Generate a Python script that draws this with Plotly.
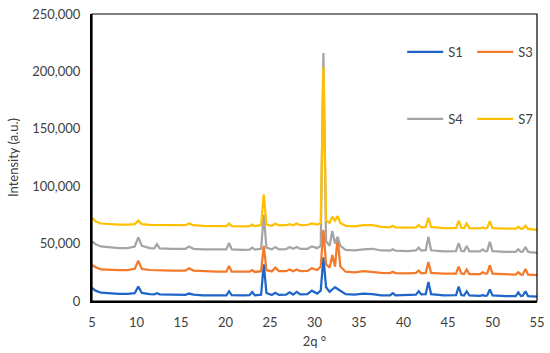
import plotly.graph_objects as go

two_theta = [5, 5.4, 6, 7, 8, 9, 9.8, 10.2, 10.6, 11.5, 12.0, 12.3, 12.6, 14.0, 15.5, 15.9, 16.4, 17.5, 19.0, 20.1,
             20.4, 20.7, 22.0, 22.7, 23.0, 23.3, 24.0, 24.3, 24.6, 25.2, 25.6, 26.0, 26.8, 27.2, 27.6, 28.0, 28.4, 29.2,
             29.7, 30.3, 30.7, 31.0, 31.3, 31.7, 32.0, 32.3, 32.6, 32.9, 33.5, 34.5, 35.5, 36.5, 37.5, 38.5, 38.8, 39.1,
             40.5, 41.4, 41.7, 42.0, 42.5, 42.8, 43.1, 44.5, 45.9, 46.2, 46.5, 46.8, 47.1, 47.4, 48.6, 48.9, 49.2, 49.4,
             49.7, 50.0, 51.5, 52.6, 52.9, 53.2, 53.4, 53.7, 54.0, 55]

s1 = [11500, 9000, 7200, 6500, 6200, 6300, 6800, 12500, 7000, 6000, 5800, 6800, 5800, 5500, 5400, 6500, 5500, 5000,
      4800, 4900, 8500, 5000, 4800, 5000, 7800, 5000, 5500, 32000, 7000, 5200, 7200, 5300, 5500, 7500, 5600, 8000,
      5800, 6000, 9000, 6500, 9000, 38000, 12000, 8000, 10000, 12000, 10500, 9000, 6000, 5500, 6500, 6000, 5000, 5000,
      6800, 5000, 5000, 5500, 8500, 5800, 6000, 16500, 6000, 4800, 5000, 12500, 5200, 4800, 8500, 4800, 4500, 5000,
      4500, 4800, 10000, 4800, 4200, 4300, 7500, 4300, 4500, 8500, 4300, 3800]

s3 = [31500, 29500, 27500, 27000, 27000, 27000, 28000, 35000, 28000, 27000, 26800, 27200, 26700, 26500, 26500, 28500,
      26500, 26000, 25500, 25500, 30500, 25500, 25300, 25500, 27000, 25300, 26000, 48000, 27000, 25800, 29000, 26000,
      26000, 27500, 26000, 27500, 26000, 26200, 28500, 27000, 30000, 62000, 32000, 29000, 40000, 30000, 55000, 30000,
      25500, 25000, 26000, 25000, 24500, 24300, 25500, 24300, 24000, 24500, 26500, 24200, 24500, 34000, 24500, 23800,
      23800, 30000, 24000, 23500, 27500, 23500, 23500, 25000, 23800, 24000, 31000, 23800, 23000, 23000, 25000, 23000,
      23000, 28000, 23000, 22500]

s4 = [52000, 49500, 47500, 46500, 46000, 46000, 47500, 55500, 48000, 46000, 45800, 49500, 45800, 45500, 45500, 47500,
      45500, 45000, 44800, 45000, 50500, 45000, 44600, 44800, 46500, 44800, 45500, 75000, 46500, 45000, 47000, 45000,
      45200, 47000, 45500, 47000, 45500, 45500, 47500, 46000, 48000, 216000, 52000, 48000, 61000, 50000, 56000, 48000,
      44500, 44000, 45000, 45500, 44000, 43800, 45000, 43800, 43500, 44000, 46500, 44000, 44200, 56000, 44200, 43300,
      43500, 50500, 43500, 43300, 48000, 43300, 43200, 45000, 43300, 43500, 51500, 43500, 42800, 42800, 45000, 42800,
      43000, 47000, 42800, 42000]

s7 = [72500, 69500, 67500, 66800, 66500, 66500, 67000, 70000, 67000, 66300, 66200, 66500, 66200, 66000, 66000, 67500,
      66000, 65500, 65300, 65300, 67500, 65300, 65000, 65200, 66500, 65200, 66000, 93000, 66500, 65500, 67500, 65800,
      66000, 67000, 66000, 67500, 66000, 66200, 67500, 66500, 68000, 204000, 70000, 68000, 73500, 70000, 74000, 68000,
      65500, 65000, 66000, 66000, 64500, 64200, 65500, 64200, 64000, 64200, 66000, 64200, 64500, 72500, 64500, 63500,
      63500, 70000, 63800, 63500, 67500, 63500, 63200, 64000, 63200, 63500, 69500, 63500, 63000, 63000, 64500, 62800,
      63000, 65500, 62800, 62000]

series_names = ["S1", "S3", "S4", "S7"]
series_values = [s1, s3, s4, s7]
series_colors = ["#1F66C8", "#F47A2A", "#A5A5A5", "#FFC000"]
series_legend = ["legend", "legend", "legend2", "legend2"]

x_ticks = [5, 10, 15, 20, 25, 30, 35, 40, 45, 50, 55]
y_ticks = [0, 50000, 100000, 150000, 200000, 250000]

FONT = "Lato, 'Open Sans', sans-serif"
TXT = "#404040"

fig = go.Figure()
for name, vals, col, lg in zip(series_names, series_values, series_colors, series_legend):
    fig.add_trace(go.Scatter(x=two_theta, y=vals, name=name, mode="lines",
                             line=dict(color=col, width=2.25), legend=lg))

legend_common = dict(orientation="h", xanchor="left", yanchor="middle",
                     bgcolor="rgba(0,0,0,0)", font=dict(family=FONT, size=13, color=TXT),
                     entrywidth=19, entrywidthmode="pixels", itemwidth=36)

fig.update_layout(
    width=550, height=353,
    margin=dict(l=92, r=13, t=14, b=52, autoexpand=False),
    paper_bgcolor="white", plot_bgcolor="white",
    font=dict(family=FONT, size=13, color=TXT),
    showlegend=True,
    legend=dict(x=0.697, y=0.868, **legend_common),
    legend2=dict(x=0.697, y=0.634, **legend_common),
    xaxis=dict(range=[5, 55], tickvals=x_ticks, ticks="", showgrid=False, zeroline=False,
               showline=True, linecolor="#000000", linewidth=2, automargin=False,
               ticklabelstandoff=8,
               title=dict(text="2q °", font=dict(family=FONT, size=13, color=TXT), standoff=8)),
    yaxis=dict(range=[0, 250000], tickvals=y_ticks, tickformat=",d", ticks="", showgrid=False,
               zeroline=False, showline=True, linecolor="#000000", linewidth=2, automargin=False,
               ticklabelstandoff=7,
               title=dict(text="Intensity (a.u.)", font=dict(family=FONT, size=13, color=TXT), standoff=11)),
    shapes=[dict(type="rect", xref="paper", yref="paper", x0=0, x1=1, y0=0, y1=1,
                 line=dict(color="#000000", width=1.2), fillcolor="rgba(0,0,0,0)", layer="above")],
)

fig.write_html("out.html", config={"displayModeBar": False},
               post_script="document.body.style.margin='0';document.body.style.overflow='hidden';")
